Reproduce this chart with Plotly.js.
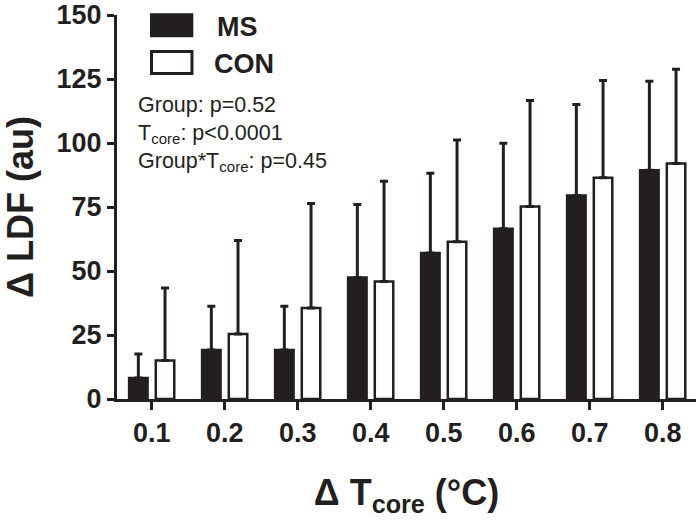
<!DOCTYPE html>
<html>
<head>
<meta charset="utf-8">
<script src="https://cdn.plot.ly/plotly-3.0.1.min.js"></script>
<style>html,body{margin:0;padding:0;background:#fff;}#chart{width:696px;height:527px;}</style>
</head>
<body>
<div id="chart"></div>
<script>
// Data
const categories = ["0.1", "0.2", "0.3", "0.4", "0.5", "0.6", "0.7", "0.8"];
const msValues   = [8.2, 19.1, 19.1, 47.5, 57.0, 66.5, 79.5, 89.4];
const msErrors   = [9.4, 17.1, 17.1, 28.5, 31.2, 33.4, 35.5, 34.7];
const conValues  = [15.0, 25.4, 35.5, 45.9, 61.4, 75.2, 86.4, 92.0];
const conErrors  = [28.4, 36.5, 40.9, 39.2, 39.8, 41.4, 38.0, 36.8];
const yTicks     = [0, 25, 50, 75, 100, 125, 150];
const seriesNames = ["MS", "CON"];
const statLines  = ["Group: p=0.52", "T<sub>core</sub>: p&lt;0.0001", "Group*T<sub>core</sub>: p=0.45"];

const INK = "#231f20";
const FONT = "Liberation Sans, Arial, Helvetica, sans-serif";
const zeros = categories.map(() => 0);

const traces = [
  {
    type: "bar", name: seriesNames[0], x: categories, y: msValues,
    marker: {color: INK, line: {color: INK, width: 2.5}},
    error_y: {type: "data", symmetric: false, array: msErrors, arrayminus: zeros,
              color: INK, thickness: 3, width: 4},
    showlegend: false, hoverinfo: "x+y"
  },
  {
    type: "bar", name: seriesNames[1], x: categories, y: conValues,
    marker: {color: "#ffffff", line: {color: INK, width: 2.5}},
    error_y: {type: "data", symmetric: false, array: conErrors, arrayminus: zeros,
              color: INK, thickness: 3, width: 4},
    showlegend: false, hoverinfo: "x+y"
  }
];

// legend drawn as shapes + annotations (large rectangular swatches)
const shapes = [
  {type: "rect", xref: "paper", yref: "paper", x0: 0.057, x1: 0.1318, y0: 0.942, y1: 1.0044,
   fillcolor: INK, line: {color: INK, width: 0}},
  {type: "rect", xref: "paper", yref: "paper", x0: 0.0596, x1: 0.1295, y0: 0.8478, y1: 0.905,
   fillcolor: "#ffffff", line: {color: INK, width: 3}}
];

const annotations = [
  {xref: "paper", yref: "paper", x: 0.170, y: 0.970, xanchor: "left", yanchor: "middle",
   text: "<b>" + seriesNames[0] + "</b>", showarrow: false, font: {family: FONT, size: 27, color: INK}},
  {xref: "paper", yref: "paper", x: 0.164, y: 0.8733, xanchor: "left", yanchor: "middle",
   text: "<b>" + seriesNames[1] + "</b>", showarrow: false, font: {family: FONT, size: 27, color: INK}},
  {xref: "paper", yref: "paper", x: 0.032, y: 0.690, xanchor: "left", yanchor: "middle", align: "left",
   text: statLines.join("<br>"), showarrow: false, font: {family: FONT, size: 21.5, color: INK}}
];

const layout = {
  width: 696, height: 527,
  margin: {l: 117, r: 0, t: 15, b: 128},
  paper_bgcolor: "#ffffff", plot_bgcolor: "#ffffff",
  barmode: "group", bargap: 0.269, bargroupgap: 0.307,
  font: {family: FONT, color: INK},
  xaxis: {
    type: "category", range: [-0.475, 7.456],
    showline: true, linecolor: INK, linewidth: 3,
    ticks: "outside", ticklen: 8, tickwidth: 3, tickcolor: INK,
    tickfont: {family: FONT, size: 27, color: INK, weight: "bold"},
    showgrid: false, zeroline: false,
    title: {text: "<b>Δ T<sub>core</sub> (°C)</b>", font: {family: FONT, size: 36, color: INK}, standoff: 33}
  },
  yaxis: {
    range: [0, 150], tickvals: yTicks,
    showline: true, linecolor: INK, linewidth: 3,
    ticks: "outside", ticklen: 7, tickwidth: 3, tickcolor: INK,
    tickfont: {family: FONT, size: 27, color: INK, weight: "bold"},
    showgrid: false, zeroline: false,
    title: {text: "<b>Δ LDF (au)</b>", font: {family: FONT, size: 36, color: INK}, standoff: 16}
  },
  shapes: shapes,
  annotations: annotations
};

Plotly.newPlot("chart", traces, layout, {displayModeBar: false, staticPlot: true});
</script>
</body>
</html>
